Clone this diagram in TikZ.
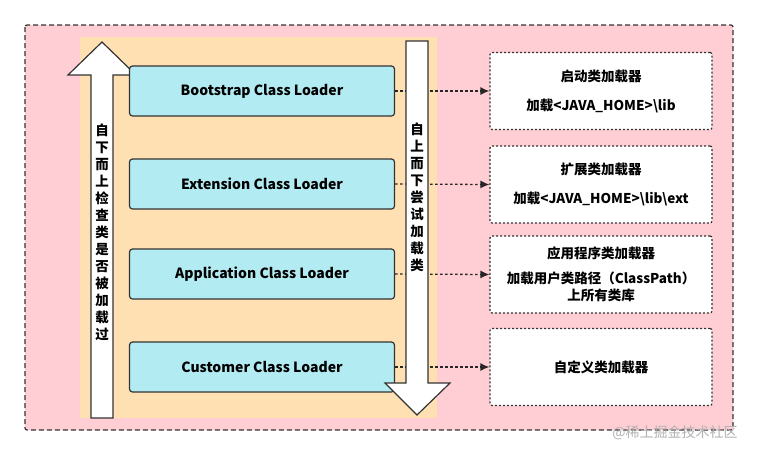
\documentclass[tikz,border=0pt]{standalone}
\usepackage{fontspec}
\setmainfont{Noto Sans CJK SC}
\usetikzlibrary{arrows.meta}
\definecolor{pinkbg}{RGB}{255,205,212}
\definecolor{orangebg}{RGB}{255,224,178}
\definecolor{bluebox}{RGB}{178,235,242}
\begin{document}
\begin{tikzpicture}[x=1pt,y=-1pt,
 blue/.style={draw=black!80,line width=1.2pt,fill=bluebox,rounded corners=3pt,minimum width=265pt,minimum height=50pt,font=\fontsize{14}{16}\selectfont\bfseries},
 rbox/.style={draw=black!80,line width=1.2pt,dash pattern=on 2pt off 2pt,fill=white,rounded corners=2pt,minimum width=222pt,minimum height=77pt,align=center,font=\fontsize{13.5}{17}\selectfont\bfseries},
 conn/.style={line width=1.3pt,dash pattern=on 2.5pt off 2.5pt,-{Latex[length=9pt,width=8pt]},black!85},
 vt/.style={font=\fontsize{13.5}{17}\selectfont\bfseries,align=center,inner sep=0pt}]
\useasboundingbox (0,0) rectangle (758,456);
\fill[white] (0,0) rectangle (758,456);
\draw[draw=black!80,fill=pinkbg,line width=1.2pt,rounded corners=2pt,dash pattern=on 5pt off 3pt] (25,25) rectangle (733,430);
\fill[orangebg] (80,37) rectangle (437,418);
% up arrow
\draw[line width=1.2pt,draw=black!80,fill=white] (91,418) -- (91,75) -- (68,75) -- (102,42) -- (136,75) -- (113,75) -- (113,418) -- cycle;
\node[vt] (up) at (102,232) {自\\下\\而\\上\\检\\查\\类\\是\\否\\被\\加\\载\\过};
% blue boxes
\node[blue] (b1) at (262,91) {Bootstrap Class Loader};
\node[blue] (b2) at (262,184) {Extension Class Loader};
\node[blue] (b3) at (262,274) {Application Class Loader};
\node[blue] (b4) at (262,367) {Customer Class Loader};
% right boxes
\node[rbox] (r1) at (601,91) {启动类加载器\\[12pt]加载<JAVA\_HOME>\textbackslash lib};
\node[rbox] (r2) at (601,184.5) {扩展类加载器\\[12pt]加载<JAVA\_HOME>\textbackslash lib\textbackslash ext};
\node[rbox] (r3) at (601,274.5) {应用程序类加载器\\[8pt]加载用户类路径（ClassPath）\\上所有类库};
\node[rbox] (r4) at (601,367) {自定义类加载器};
% connectors
\draw[conn] (b1.east) -- (r1.west);
\draw[conn] (b2.east) -- (r2.west);
\draw[conn] (b3.east) -- (r3.west);
\draw[conn] (b4.east) -- (r4.west);
% down arrow
\draw[line width=1.2pt,draw=black!80,fill=white] (406,41) -- (428,41) -- (428,383) -- (450,383) -- (417,415) -- (385,383) -- (406,383) -- cycle;
\node[vt] (down) at (417,197) {自\\上\\而\\下\\尝\\试\\加\\载\\类};
\node[text=black!30,font=\fontsize{14}{16}\selectfont] (wm) at (675,433) {@稀土掘金技术社区};
\end{tikzpicture}
\end{document}
